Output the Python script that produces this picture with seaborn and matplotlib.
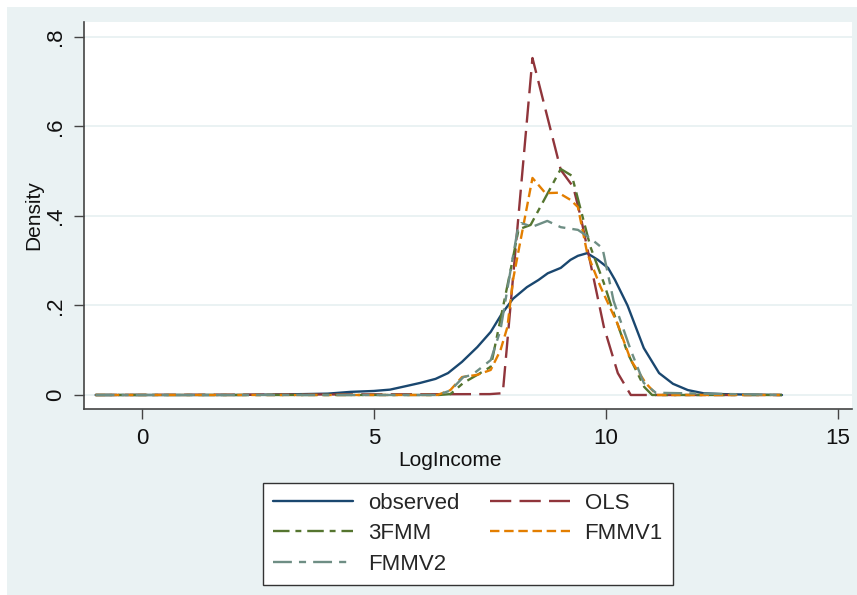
import matplotlib
matplotlib.use("Agg")
import matplotlib.pyplot as plt
from matplotlib.patches import Rectangle
import pandas as pd
import seaborn as sns

# values
obs_x = [-1.0, 2.0, 2.8, 3.5, 4.0, 4.5, 5.0, 5.35, 5.7, 6.0, 6.33, 6.6, 6.9, 7.23, 7.52, 7.75,
         8.0, 8.3, 8.55, 8.75, 9.03, 9.24, 9.4, 9.6, 9.83, 10.05, 10.2, 10.47, 10.82, 11.15,
         11.45, 11.77, 12.1, 12.5, 13.0, 13.8]
obs_y = [0, 0, 0.001, 0.002, 0.003, 0.007, 0.009, 0.012, 0.02, 0.027, 0.036, 0.049, 0.074,
         0.107, 0.141, 0.18, 0.215, 0.241, 0.257, 0.272, 0.284, 0.302, 0.311, 0.317, 0.302,
         0.284, 0.257, 0.2, 0.105, 0.049, 0.025, 0.011, 0.004, 0.002, 0.001, 0]

ols_x = [-1.0, 7.5, 7.78, 8.42, 9.03, 9.3, 9.46, 9.96, 10.26, 10.54, 13.8]
ols_y = [0, 0.002, 0.004, 0.753, 0.503, 0.465, 0.398, 0.152, 0.049, 0, 0]

fmm3_x = [-1.0, 6.4, 6.65, 6.93, 7.23, 7.52, 7.95, 8.12, 8.38, 9.03, 9.27, 9.67, 9.96, 10.1,
          10.47, 10.83, 11.0, 13.8]
fmm3_y = [0, 0, 0.002, 0.027, 0.045, 0.063, 0.28, 0.37, 0.38, 0.505, 0.49, 0.331, 0.25, 0.205,
          0.094, 0.018, 0, 0]

v1_x = [-1.0, 6.37, 6.65, 6.9, 7.23, 7.52, 7.73, 7.88, 8.0, 8.42, 8.7, 8.98, 9.24, 9.4, 9.6,
        9.89, 10.25, 10.54, 10.86, 11.1, 13.8]
v1_y = [0, 0, 0.011, 0.04, 0.045, 0.056, 0.1, 0.152, 0.257, 0.485, 0.451, 0.452, 0.436, 0.42,
        0.317, 0.241, 0.16, 0.078, 0.027, 0, 0]

v2_x = [-1.0, 6.37, 6.65, 6.93, 7.12, 7.52, 7.73, 7.95, 8.1, 8.18, 8.42, 8.74, 9.03, 9.4, 9.67,
        9.93, 10.17, 10.54, 10.82, 11.08, 13.8]
v2_y = [0, 0, 0.01, 0.04, 0.045, 0.078, 0.145, 0.28, 0.369, 0.384, 0.376, 0.389, 0.375, 0.369,
        0.35, 0.328, 0.21, 0.1, 0.027, 0.005, 0]

names = ["observed", "OLS", "3FMM", "FMMV1", "FMMV2"]
series = [(obs_x, obs_y), (ols_x, ols_y), (fmm3_x, fmm3_y), (v1_x, v1_y), (v2_x, v2_y)]

rows = []
for name, (xs, ys) in zip(names, series):
    for a, b in zip(xs, ys):
        rows.append({"series": name, "LogIncome": a, "Density": b})
df = pd.DataFrame(rows)

palette = {"observed": "#1a476f", "OLS": "#90353b", "3FMM": "#55752f",
           "FMMV1": "#e37e00", "FMMV2": "#6e8e84"}
dashes = {"observed": "", "OLS": (9, 3.5), "3FMM": (7, 2.5, 2.5, 2.5),
          "FMMV1": (4, 2), "FMMV2": (8, 3, 3, 3)}

sns.set_style("white")
plt.rcParams["font.family"] = ["Liberation Sans", "DejaVu Sans"]

fig = plt.figure(figsize=(8.57, 5.95), dpi=100)
fig.patch.set_facecolor("white")
# stata-like light graph region
fig.patches.append(Rectangle((7 / 857, 0), 1, 1 - 7 / 595, transform=fig.transFigure,
                             facecolor="#eaf2f3", edgecolor="none", zorder=-10))

ax = fig.add_axes([84 / 857, 1 - 409 / 595, 768 / 857, 387 / 595])
ax.set_facecolor("white")

sns.lineplot(data=df, x="LogIncome", y="Density", hue="series", style="series",
             hue_order=names, style_order=names, palette=palette, dashes=dashes,
             linewidth=1.7, sort=False, ax=ax)

ax.set_xlim(-1.25, 15.31)
ax.set_ylim(-0.0313, 0.8335)
ax.set_xticks([0, 5, 10, 15])
ax.set_xticklabels(["0", "5", "10", "15"])
ax.set_yticks([0, 0.2, 0.4, 0.6, 0.8])
ax.set_yticklabels(["0", ".2", ".4", ".6", ".8"], rotation=90, va="center")

for y in [0, 0.2, 0.4, 0.6, 0.8]:
    ax.axhline(y, color="#eaf2f3", lw=1.4, zorder=0)

for s in ["top", "right"]:
    ax.spines[s].set_visible(False)
for s in ["left", "bottom"]:
    ax.spines[s].set_color("#444444")
    ax.spines[s].set_linewidth(1.2)

ax.tick_params(axis="both", which="major", length=7, width=1.0, color="#444444",
               labelsize=16, labelcolor="#111111", direction="out", left=True, bottom=True)
ax.tick_params(axis="x", pad=7)
ax.tick_params(axis="y", pad=6)

ax.set_xlabel("LogIncome", fontsize=15, color="#111111")
ax.set_ylabel("Density", fontsize=15, color="#111111")
ax.xaxis.set_label_coords((450 - 84) / 768, -0.108)
ax.yaxis.set_label_coords(-0.053, 0.5)

handles, labels = ax.get_legend_handles_labels()
lookup = dict(zip(labels, handles))
order = ["observed", "3FMM", "FMMV2", "OLS", "FMMV1"]
leg = ax.legend([lookup[k] for k in order], order, ncol=2, loc="upper center",
                bbox_to_anchor=(0.5, -0.191), borderaxespad=0, fontsize=16, frameon=True,
                fancybox=False, shadow=False, framealpha=1, edgecolor="#333333",
                handlelength=3.6, handletextpad=0.65, columnspacing=1.4,
                labelspacing=0.42, borderpad=0.45)
leg.get_frame().set_linewidth(1.0)

fig.savefig("out.png", dpi=100, facecolor=fig.get_facecolor())
